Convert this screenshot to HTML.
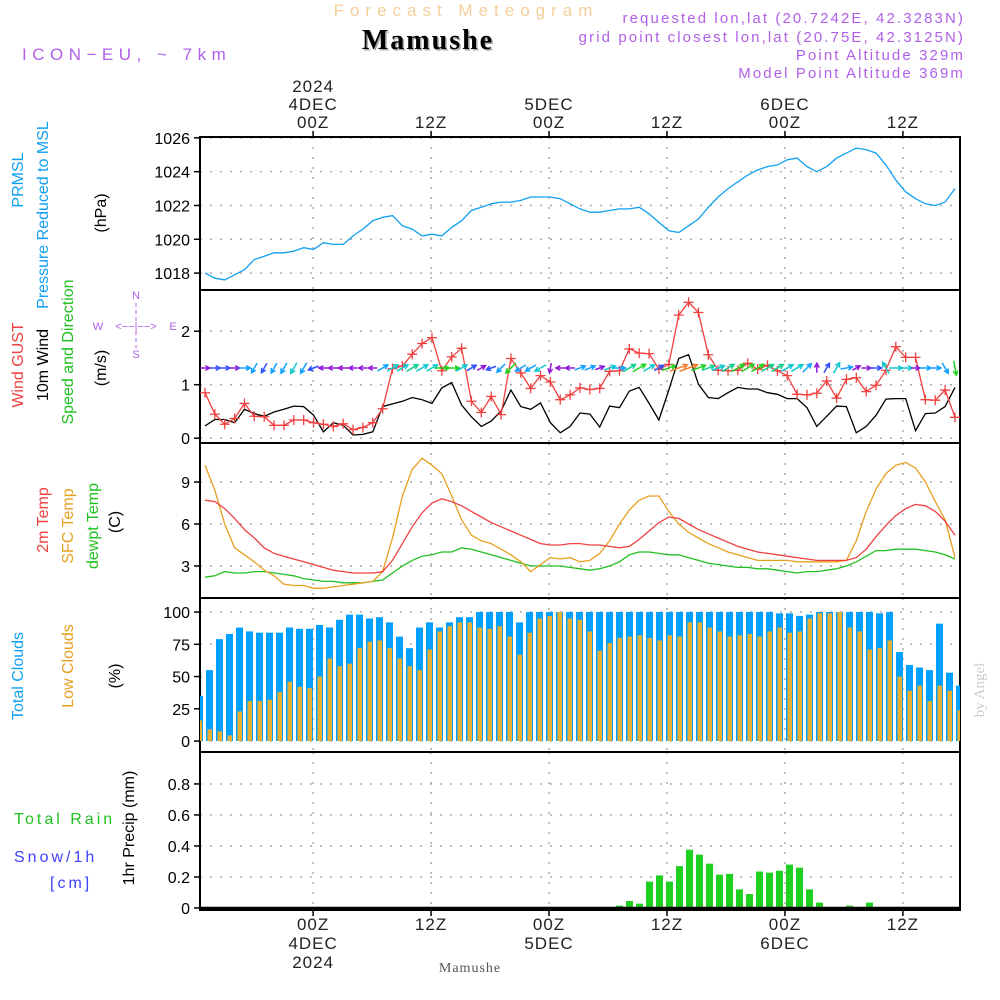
<!DOCTYPE html>
<html><head><meta charset="utf-8">
<style>
html,body{margin:0;padding:0;background:#fff;}
svg{display:block;font-family:"Liberation Sans",sans-serif;}
</style></head>
<body>
<svg id="chart" width="1000" height="1000" viewBox="0 0 1000 1000">
<text x="466" y="16" text-anchor="middle" fill="#f5cf9a" font-size="17" letter-spacing="6">Forecast Meteogram</text>
<text x="428" y="49" text-anchor="middle" fill="#aaa" font-size="28" font-weight="bold" font-family="Liberation Serif,serif" letter-spacing="2" transform="translate(1.5,1.5)">Mamushe</text>
<text x="428" y="49" text-anchor="middle" fill="#000" font-size="28" font-weight="bold" font-family="Liberation Serif,serif" letter-spacing="2">Mamushe</text>
<text x="22" y="60" fill="#b060e8" font-size="17" letter-spacing="5.5">ICON−EU, ~ 7km</text>
<g fill="#b060e8" font-size="15" letter-spacing="2.1" text-anchor="end">
<text x="965" y="23">requested lon,lat (20.7242E, 42.3283N)</text>
<text x="965" y="42">grid point closest lon,lat (20.75E, 42.3125N)</text>
<text x="965" y="60">Point Altitude 329m</text>
<text x="965" y="78">Model Point Altitude 369m</text>
</g>
<g id="axes"></g>
<g id="marks"></g>
<text x="470" y="972" text-anchor="middle" fill="#555" font-size="14" font-family="Liberation Serif,serif" letter-spacing="1">Mamushe</text>
<text transform="translate(984,690) rotate(-90)" text-anchor="middle" fill="#ccc" font-size="15" font-family="Liberation Serif,serif">by Angel</text>
</svg>
<script>
const pressure=[1018.0,1017.7,1017.6,1017.9,1018.2,1018.8,1019.0,1019.2,1019.2,1019.3,1019.5,1019.4,1019.8,1019.7,1019.7,1020.2,1020.6,1021.1,1021.3,1021.4,1020.8,1020.6,1020.2,1020.3,1020.2,1020.7,1021.1,1021.7,1021.9,1022.1,1022.2,1022.2,1022.3,1022.5,1022.5,1022.5,1022.4,1022.1,1021.8,1021.6,1021.6,1021.7,1021.8,1021.8,1021.9,1021.5,1021.0,1020.5,1020.4,1020.8,1021.2,1021.9,1022.5,1023.0,1023.4,1023.8,1024.1,1024.3,1024.4,1024.7,1024.8,1024.3,1024.0,1024.3,1024.8,1025.1,1025.4,1025.3,1025.1,1024.4,1023.5,1022.8,1022.4,1022.1,1022.0,1022.2,1023.0];
const gust=[0.85,0.45,0.26,0.37,0.65,0.41,0.40,0.24,0.24,0.34,0.34,0.29,0.26,0.22,0.27,0.16,0.20,0.29,0.55,1.30,1.35,1.57,1.77,1.88,1.26,1.52,1.68,0.69,0.48,0.78,0.44,1.49,1.22,0.93,1.17,1.05,0.72,0.81,0.94,0.91,0.93,1.25,1.26,1.67,1.59,1.58,1.29,1.38,2.30,2.54,2.35,1.56,1.27,1.26,1.27,1.40,1.29,1.36,1.26,1.17,0.82,0.81,0.84,1.07,0.75,1.10,1.13,0.87,0.99,1.27,1.71,1.51,1.51,0.72,0.71,0.90,0.39];
const wind10=[0.23,0.35,0.35,0.29,0.54,0.46,0.41,0.49,0.54,0.60,0.59,0.43,0.12,0.29,0.24,0.06,0.07,0.12,0.59,0.64,0.69,0.76,0.72,0.65,0.94,1.04,0.62,0.40,0.22,0.32,0.51,0.90,0.59,0.54,0.66,0.29,0.10,0.22,0.47,0.45,0.21,0.60,0.57,0.88,0.95,0.65,0.34,0.90,1.49,1.56,1.01,0.76,0.74,0.85,0.95,0.92,0.92,0.85,0.82,0.74,0.74,0.57,0.22,0.41,0.60,0.59,0.10,0.22,0.43,0.73,0.74,0.74,0.14,0.46,0.47,0.59,0.95];
const windDir=[0,0,0,0,0,240,240,240,240,240,240,200,180,180,180,180,180,180,30,30,30,30,30,30,0,0,30,30,30,200,225,225,210,210,210,260,180,180,20,20,20,20,0,30,30,30,30,20,20,20,20,20,20,30,30,30,30,30,30,30,30,45,90,60,60,10,30,0,0,120,0,0,0,0,0,300,280];
const temp2m=[7.7,7.6,7.1,6.4,5.6,5.0,4.3,3.9,3.7,3.5,3.3,3.1,2.9,2.7,2.6,2.5,2.5,2.5,2.6,3.4,4.6,5.8,6.8,7.5,7.8,7.6,7.3,6.9,6.5,6.1,5.8,5.5,5.2,4.9,4.6,4.5,4.5,4.6,4.6,4.5,4.5,4.4,4.3,4.4,4.9,5.5,6.1,6.5,6.4,6.0,5.6,5.3,5.0,4.7,4.4,4.2,4.0,3.9,3.8,3.7,3.6,3.5,3.4,3.4,3.4,3.4,3.6,4.2,5.1,5.9,6.6,7.1,7.4,7.3,6.9,6.2,5.2];
const tempSfc=[10.2,8.4,6.0,4.3,3.8,3.3,2.7,2.3,1.7,1.6,1.6,1.4,1.4,1.5,1.6,1.7,1.8,1.9,2.6,5.0,8.0,9.9,10.7,10.2,9.6,8.0,6.3,5.2,4.8,4.6,4.2,3.8,3.3,2.6,3.1,3.6,3.5,3.6,3.3,3.4,3.9,4.8,6.0,7.0,7.7,8.0,8.0,6.9,6.0,5.4,5.0,4.6,4.3,4.0,3.8,3.6,3.4,3.4,3.4,3.4,3.3,3.3,3.3,3.3,3.3,3.4,4.8,6.9,8.5,9.6,10.2,10.4,10.0,9.0,7.6,6.3,3.6];
const dewpt=[2.2,2.3,2.6,2.5,2.5,2.6,2.6,2.5,2.4,2.3,2.1,2.0,1.9,1.9,1.8,1.8,1.8,1.9,2.0,2.5,3.0,3.4,3.7,3.8,4.0,4.0,4.3,4.2,4.0,3.8,3.6,3.4,3.2,3.0,3.0,3.0,3.0,2.9,2.8,2.7,2.8,3.0,3.3,3.8,4.0,4.0,3.9,3.8,3.8,3.6,3.4,3.2,3.1,3.0,2.9,2.9,2.8,2.8,2.7,2.6,2.5,2.6,2.6,2.7,2.8,3.0,3.3,3.7,4.1,4.1,4.2,4.2,4.2,4.1,4.0,3.8,3.5];
const totalClouds=[35,55,79,83,88,85,84,84,84,88,87,87,90,88,94,98,98,95,96,92,81,72,88,92,88,92,96,96,100,100,100,100,92,100,100,100,100,100,100,100,100,100,100,100,100,100,100,100,100,100,100,100,100,100,100,100,100,100,99,99,97,98,100,100,100,100,100,100,99,100,69,59,57,55,91,53,43];
const lowClouds=[16,9,7.5,4.4,23,31,31,32,38,46,42,41,50,64,58,60,72,77,78,72,64,58,55,71,85,89,92,92,88,87,89,81,67,84,95,97,100,95,94,85,70,76,80,81,82,80,78,82,81,92,92,88,85,81,82,83,81,85,88,84,85,95,99,99,100,88,85,71,72,78,50,39,43,31,43,39,24];
const precip=[0,0,0,0,0,0.005,0.005,0.005,0,0,0,0,0,0,0,0,0,0,0,0,0,0,0,0,0,0,0,0,0,0,0,0,0,0,0,0,0,0,0,0,0,0,0.015,0.045,0.028,0.17,0.21,0.17,0.27,0.376,0.344,0.286,0.215,0.22,0.12,0.09,0.235,0.228,0.24,0.28,0.26,0.12,0.035,0,0,0.015,0,0.035,0,0,0,0,0,0,0,0,0];
const pTicks=[1018,1020,1022,1024,1026];
const wTicks=[0,1,2];
const tTicks=[3,6,9];
const cTicks=[0,25,50,75,100];
const rTicks=["0","0.2","0.4","0.6","0.8"];
const timeTickHours=[11,23,35,47,59,71];
const topTimeLabels=[["2024","4DEC","00Z"],["12Z"],["5DEC","00Z"],["12Z"],["6DEC","00Z"],["12Z"]];
const bottomTimeLabels=[["00Z","4DEC","2024"],["12Z"],["00Z","5DEC"],["12Z"],["00Z","6DEC"],["12Z"]];

const NS="http://www.w3.org/2000/svg";
const axes=document.getElementById('axes'), marks=document.getElementById('marks');
function el(tag,attrs,parent){const e=document.createElementNS(NS,tag);for(const k in attrs)e.setAttribute(k,attrs[k]);(parent||marks).appendChild(e);return e;}
const X0=200,X1=960;
const xLine=i=>205+i*750/76;
const xBar=j=>199.5+j*10;
const xHour=h=>205+h*750/76.3;
const panels=[
 {top:137,bot:290,min:1017.0,max:1026.05},
 {top:290,bot:443,min:-0.09,max:2.77},
 {top:443,bot:598,min:0.71,max:11.79},
 {top:598,bot:752,min:-8.5,max:110.9},
 {top:752,bot:910,min:-0.013,max:1.006}];
const ys=panels.map(p=>v=>p.bot-(v-p.min)/(p.max-p.min)*(p.bot-p.top));
const tickSets=[pTicks,wTicks,tTicks,cTicks,rTicks.map(Number)];
const tickText=[pTicks.map(String),wTicks.map(String),tTicks.map(String),cTicks.map(String),rTicks];
panels.forEach((p,k)=>{
  const g=el('g',{},axes);
  
  
  tickSets[k].forEach((v,n)=>{
    const y=ys[k](v);
    const gl=el('line',{x1:X0,x2:X1,y1:y,y2:y,stroke:'#aaa','stroke-width':1.5,'stroke-dasharray':'2,8'},g);
    
    
    el('line',{x1:X0-6,x2:X0,y1:y,y2:y,stroke:'#000','stroke-width':1.5},g);
    const t=el('text',{x:X0-10,y:y+6,'text-anchor':'end','font-size':16,fill:'#000'},g);
    t.textContent=tickText[k][n];
    
    
  });
  timeTickHours.forEach(h=>{
    const x=xHour(h);
    el('line',{x1:x,x2:x,y1:p.top,y2:p.bot,stroke:'#aaa','stroke-width':1.5,'stroke-dasharray':'2,8'},g);
  });
  el('rect',{x:X0,y:p.top,width:X1-X0,height:p.bot-p.top,fill:'none',stroke:'#000','stroke-width':2},g);
});
timeTickHours.forEach((h,n)=>{
  const x=xHour(h);
  el('line',{x1:x,x2:x,y1:131,y2:137,stroke:'#000','stroke-width':1.5},axes);
  el('line',{x1:x,x2:x,y1:910,y2:916,stroke:'#000','stroke-width':1.5},axes);
  const tl=topTimeLabels[n];
  tl.forEach((s,m)=>{const t=el('text',{x:x,y:128-(tl.length-1-m)*18,'text-anchor':'middle','font-size':17,'letter-spacing':1,fill:'#222'},axes);t.textContent=s;
    
    });
  bottomTimeLabels[n].forEach((s,m)=>{const t=el('text',{x:x,y:930+m*19,'text-anchor':'middle','font-size':17,'letter-spacing':1,fill:'#222'},axes);t.textContent=s;
    
    });
});
function vtext(x,y,str,color,name,size){
  const t=el('text',{transform:`translate(${x},${y}) rotate(-90)`,'text-anchor':'middle','font-size':size||16,fill:color},axes);
  t.textContent=str;
  
  
}
vtext(23,180,'PRMSL','#10a0f0','pressure-title-1');
vtext(48,215,'Pressure Reduced to MSL','#10a0f0','pressure-title-2');
vtext(106,213,'(hPa)','#000','pressure-unit');
vtext(23,365,'Wind GUST','#f04040','gust-title');
vtext(48,365,'10m Wind','#000','wind-title');
vtext(73,352,'Speed and Direction','#20c020','wind-dir-title');
vtext(106,368,'(m/s)','#000','wind-unit');
vtext(48,520,'2m Temp','#f04040','temp2m-title');
vtext(73,526,'SFC Temp','#e8a020','sfc-temp-title');
vtext(98,526,'dewpt Temp','#20c020','dewpt-title');
vtext(120,522,'(C)','#000','temp-unit');
vtext(23,676,'Total Clouds','#10a0f0','total-clouds-title');
vtext(73,666,'Low Clouds','#e8a020','low-clouds-title');
vtext(120,676,'(%)','#000','clouds-unit');
vtext(134,828,'1hr Precip (mm)','#000','precip-title');
[['Total  Rain',14,824,'#20c020','rain-legend'],['Snow/1h',14,862,'#4040ff','snow-legend'],['[cm]',50,888,'#4040ff','snow-unit']].forEach(a=>{
  const t=el('text',{x:a[1],y:a[2],'font-size':16,'letter-spacing':3,fill:a[3],'xml:space':'preserve'},axes);
  t.textContent=a[0];
  
  
});
const cg=el('g',{fill:'#b060e8','font-size':11,'text-anchor':'middle'},axes);


[['N',136,299],['W',98,330],['E',173,330],['S',136,358]].forEach(a=>{const t=el('text',{x:a[1],y:a[2]},cg);t.textContent=a[0];});
el('text',{x:136,y:330,'font-size':11},cg).textContent='<−−|−−>';
el('line',{x1:136,x2:136,y1:303,y2:348,stroke:'#b060e8','stroke-dasharray':'4,3'},cg);

function polyline(arr,k,color,name,w){
  const pts=arr.map((v,i)=>xLine(i).toFixed(1)+','+ys[k](v).toFixed(1)).join(' ');
  const pl=el('polyline',{points:pts,fill:'none',stroke:color,'stroke-width':w||1.3});
  
  
}
polyline(pressure,0,'#10a0f0','pressure-line');
polyline(wind10,1,'#000','wind10m-line');
polyline(gust,1,'#f04040','gust-line');
gust.forEach((v,i)=>{
  const x=xLine(i),y=ys[1](v);
  const m=el('path',{d:`M${x-5},${y}h10M${x},${y-5}v10`,stroke:'#f04040','stroke-width':1.3});
  
  
});
function spdColor(s){return s<0.3?'#9018d8':s<0.45?'#3050ff':s<0.6?'#10a0ff':s<0.75?'#10c8d0':s<0.9?'#10d090':s<1.1?'#20d020':s<1.4?'#a0e040':'#f08030';}
windDir.forEach((d,i)=>{
  const s=wind10[i],L=8+7*s,a=d*Math.PI/180;
  const cx=xLine(i),cy=368;
  const dx=Math.cos(a)*L/2,dy=-Math.sin(a)*L/2;
  const x1=cx-dx,y1=cy-dy,x2=cx+dx,y2=cy+dy;
  const h=5,ha=0.5;
  const hx1=x2-h*Math.cos(a-ha),hy1=y2+h*Math.sin(a-ha);
  const hx2=x2-h*Math.cos(a+ha),hy2=y2+h*Math.sin(a+ha);
  const p=el('path',{d:`M${x1},${y1}L${x2},${y2}M${hx1},${hy1}L${x2},${y2}L${hx2},${hy2}`,stroke:spdColor(s),'stroke-width':1.5,fill:'none'});
  
  
});
polyline(dewpt,2,'#20c020','dewpt-line');
polyline(tempSfc,2,'#e8a020','sfc-temp-line');
polyline(temp2m,2,'#f04040','temp2m-line');
const clip=el('clipPath',{id:'pc'});el('rect',{x:X0,y:0,width:X1-X0,height:1000},clip);
const bars=el('g',{'clip-path':'url(#pc)'});
totalClouds.forEach((v,j)=>{
  const y=ys[3](v),y0=ys[3](0);
  const r=el('rect',{x:xBar(j)-3.5,y:y,width:7,height:y0-y,fill:'#00a0ff'},bars);
  
  
});
lowClouds.forEach((v,j)=>{
  const y=ys[3](v),y0=ys[3](0);
  const r=el('rect',{x:xBar(j)-2,y:y,width:4.5,height:y0-y,fill:'#e8b030'},bars);
  
  
});
precip.forEach((v,j)=>{
  if(v<=0)return;
  const y=ys[4](v),y0=ys[4](0);
  const r=el('rect',{x:xBar(j)-3.5,y:y,width:7,height:y0-y,fill:'#20d020'},bars);
  
  
});
el('line',{x1:X0,x2:X1,y1:ys[4](0),y2:ys[4](0),stroke:'#000','stroke-width':2.5});
</script>
</body></html>
